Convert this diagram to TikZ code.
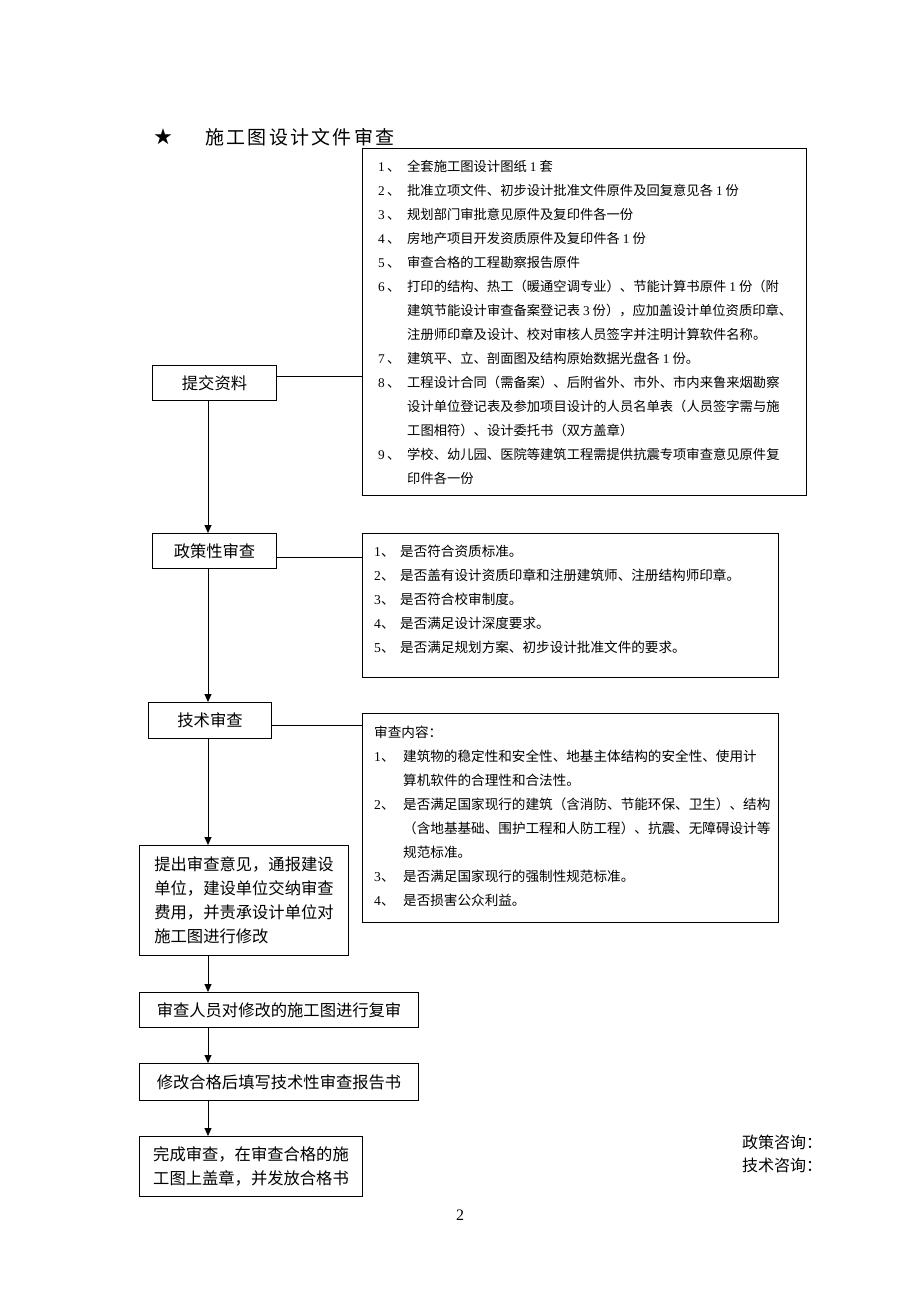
\documentclass[tikz,border=0pt]{standalone}
\usepackage{fontspec}
\setmainfont{Noto Sans CJK SC}
\newfontfamily\tnr{Liberation Serif}
\usetikzlibrary{arrows.meta}
\newcommand\dg[1]{{\tnr #1}}
\newcommand\tls{\hspace{2.3pt}}
\begin{document}
\begin{tikzpicture}[x=1pt,y=-1pt,
  box/.style={draw, line width=1pt, inner sep=0pt, anchor=north west},
  lbl/.style={font=\fontsize{16.3}{24}\selectfont, align=left},
  lst/.style={anchor=base west, inner sep=0pt, font=\fontsize{13.6}{24}\selectfont},
  conn/.style={line width=0.9pt},
  arr/.style={line width=0.9pt, -{Triangle[length=8pt,width=7pt]}}
]
\useasboundingbox (0,0) rectangle (920,1302);
\fill[white] (0,0) rectangle (920,1302);

% title
\node[font=\fontsize{18}{20}\selectfont, inner sep=0pt] (star) at (163,137) {★};
\node[anchor=west, inner sep=0pt, font=\fontsize{19}{22}\selectfont] (title) at (205,137)
  {施\tls 工\tls 图\tls 设\tls 计\tls 文\tls 件\tls 审\tls 查};

% left flow boxes
\node[box, lbl, minimum width=124, minimum height=35] (p1) at (152,365) {提交资料};
\node[box, lbl, minimum width=124, minimum height=35] (p2) at (152,533) {政策性审查};
\node[box, lbl, minimum width=123, minimum height=36] (p3) at (148,702) {技术审查};
\node[box, lbl, minimum width=209, minimum height=110] (p4) at (139,845)
  {提出审查意见，通报建设\\单位，建设单位交纳审查\\费用，并责承设计单位对\\施工图进行修改};
\node[box, lbl, minimum width=279, minimum height=35] (p5) at (139,992) {审查人员对修改的施工图进行复审};
\node[box, lbl, minimum width=279, minimum height=37] (p6) at (139,1063) {修改合格后填写技术性审查报告书};
\node[box, lbl, minimum width=223, minimum height=60] (p7) at (139,1136)
  {完成审查，在审查合格的施\\工图上盖章，并发放合格书};

% right list boxes
\node[box, minimum width=444, minimum height=347] (b1) at (362,148) {};
\node[box, minimum width=416, minimum height=144] (b2) at (362,533) {};
\node[box, minimum width=416, minimum height=209] (b3) at (362,713) {};

\node[lst, font=\fontsize{13.3}{24}\selectfont] (t1) at (378,171) {\begin{tabular}[t]{@{}p{29pt}@{}l@{}}
\dg{1}\,、 & 全套施工图设计图纸 \dg{1} 套\\
\dg{2}\,、 & 批准立项文件、初步设计批准文件原件及回复意见各 \dg{1} 份\\
\dg{3}\,、 & 规划部门审批意见原件及复印件各一份\\
\dg{4}\,、 & 房地产项目开发资质原件及复印件各 \dg{1} 份\\
\dg{5}\,、 & 审查合格的工程勘察报告原件\\
\dg{6}\,、 & 打印的结构、热工（暖通空调专业）、节能计算书原件 \dg{1} 份（附\\
 & 建筑节能设计审查备案登记表 \dg{3} 份），应加盖设计单位资质印章、\\
 & 注册师印章及设计、校对审核人员签字并注明计算软件名称。\\
\dg{7}\,、 & 建筑平、立、剖面图及结构原始数据光盘各 \dg{1} 份。\\
\dg{8}\,、 & 工程设计合同（需备案）、后附省外、市外、市内来鲁来烟勘察\\
 & 设计单位登记表及参加项目设计的人员名单表（人员签字需与施\\
 & 工图相符）、设计委托书（双方盖章）\\
\dg{9}\,、 & 学校、幼儿园、医院等建筑工程需提供抗震专项审查意见原件复\\
 & 印件各一份
\end{tabular}};

\node[lst] (t2) at (374,556) {\begin{tabular}[t]{@{}p{26pt}@{}l@{}}
\dg{1}、 & 是否符合资质标准。\\
\dg{2}、 & 是否盖有设计资质印章和注册建筑师、注册结构师印章。\\
\dg{3}、 & 是否符合校审制度。\\
\dg{4}、 & 是否满足设计深度要求。\\
\dg{5}、 & 是否满足规划方案、初步设计批准文件的要求。
\end{tabular}};

\node[lst] (t3) at (374,737) {\begin{tabular}[t]{@{}p{29pt}@{}l@{}}
\multicolumn{2}{@{}l@{}}{审查内容：}\\
\dg{1}、 & 建筑物的稳定性和安全性、地基主体结构的安全性、使用计\\
 & 算机软件的合理性和合法性。\\
\dg{2}、 & 是否满足国家现行的建筑（含消防、节能环保、卫生）、结构\\
 & （含地基基础、围护工程和人防工程）、抗震、无障碍设计等\\
 & 规范标准。\\
\dg{3}、 & 是否满足国家现行的强制性规范标准。\\
\dg{4}、 & 是否损害公众利益。
\end{tabular}};

% connectors
\coordinate (ax) at (208,0);
\coordinate (c1) at (0,376);
\coordinate (c2) at (0,557);
\coordinate (c3) at (0,725);
\draw[conn] (p1.east |- c1) -- (b1.west |- c1);
\draw[conn] (p2.east |- c2) -- (b2.west |- c2);
\draw[conn] (p3.east |- c3) -- (b3.west |- c3);

\draw[arr] (p1.south -| ax) -- (p2.north -| ax);
\draw[arr] (p2.south -| ax) -- (p3.north -| ax);
\draw[arr] (p3.south -| ax) -- (p4.north -| ax);
\draw[arr] (p4.south -| ax) -- (p5.north -| ax);
\draw[arr] (p5.south -| ax) -- (p6.north -| ax);
\draw[arr] (p6.south -| ax) -- (p7.north -| ax);

% consult labels and page number
\node[anchor=west, inner sep=0pt, font=\fontsize{16}{20}\selectfont] (zc) at (742,1142) {政策咨询：};
\node[anchor=west, inner sep=0pt, font=\fontsize{16}{20}\selectfont] (jc) at (742,1165) {技术咨询：};
\node[inner sep=0pt, font=\fontsize{16}{20}\selectfont] (pg) at (460,1215) {\tnr 2};
\end{tikzpicture}
\end{document}
